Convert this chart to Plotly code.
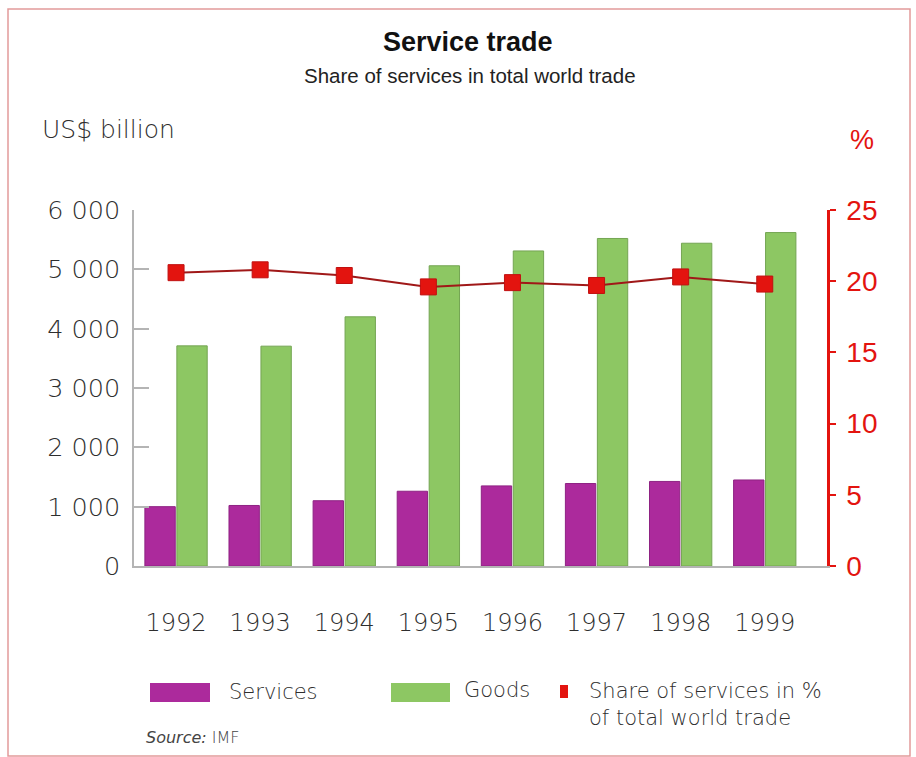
import plotly.graph_objects as go

# ---- data -------------------------------------------------------------
years = ["1992", "1993", "1994", "1995", "1996", "1997", "1998", "1999"]
services = [1000, 1020, 1100, 1260, 1350, 1390, 1425, 1450]      # US$ billion
goods = [3710, 3705, 4200, 5060, 5310, 5520, 5440, 5620]         # US$ billion
share_pct = [20.6, 20.8, 20.4, 19.6, 19.9, 19.7, 20.3, 19.8]     # % of total world trade

left_ticks = [0, 1000, 2000, 3000, 4000, 5000, 6000]
left_tick_text = ["0", "1 000", "2 000", "3 000", "4 000", "5 000", "6 000"]
right_ticks = [0, 5, 10, 15, 20, 25]

# ---- page geometry ------------------------------------------------------
W, H = 916, 757
PL, PR, PT, PB = 134, 827, 210, 566   # plot area in page pixels


def px(x):
    return (x - PL) / (PR - PL)


def py(y):
    return (PB - y) / (PB - PT)


PURPLE = "#AC2A9C"
GREEN = "#8DC763"
RED = "#E3140F"
DARK_RED = "#A01818"
GREY_TXT = "#2E2E2E"
AXIS_GREY = "#B4B4B4"
BODY_FONT = "DejaVu Sans, Verdana, sans-serif"
NARROW_FONT = "Liberation Sans Narrow, Arial Narrow, sans-serif"
RED_FONT = "Liberation Sans, Arial, sans-serif"

fig = go.Figure()

fig.add_trace(go.Bar(
    x=years, y=services, name="Services",
    marker=dict(color=PURPLE, line=dict(color="#8E2283", width=1)),
    showlegend=False,
))
fig.add_trace(go.Bar(
    x=years, y=goods, name="Goods",
    marker=dict(color=GREEN, line=dict(color="#74A553", width=1)),
    showlegend=False,
))
fig.add_trace(go.Scatter(
    x=years, y=share_pct, yaxis="y2", mode="lines+markers",
    name="Share of services in % of total world trade",
    line=dict(color=DARK_RED, width=2),
    marker=dict(symbol="square", size=16, color=RED, line=dict(color="#C01010", width=1)),
    showlegend=False,
))

shapes = []
annotations = []


def label(text, x, y, font, xanchor="left", align="left"):
    annotations.append(dict(text=text, xref="paper", yref="paper",
                            x=px(x), y=py(y), xanchor=xanchor, yanchor="middle",
                            align=align, showarrow=False, font=font))


# outer frame
shapes.append(dict(type="rect", xref="paper", yref="paper",
                   x0=px(8), x1=px(910), y0=py(756), y1=py(9),
                   line=dict(color="#E29A9A", width=1.5), fillcolor="rgba(0,0,0,0)",
                   layer="below"))

# titles
label("<b>Service trade</b>", 468, 42,
      dict(family=NARROW_FONT, size=27, color="#111111"), xanchor="center", align="center")
label("Share of services in total world trade", 470, 75,
      dict(family=NARROW_FONT, size=20.5, color="#222222"), xanchor="center", align="center")
label("US$ billion", 40, 130, dict(family=BODY_FONT, size=25, color=GREY_TXT, weight=300))
label("%", 862, 140, dict(family=RED_FONT, size=27, color=RED), xanchor="center", align="center")

# legend
shapes.append(dict(type="rect", xref="paper", yref="paper",
                   x0=px(150), x1=px(210), y0=py(702), y1=py(683),
                   fillcolor=PURPLE, line=dict(width=0)))
shapes.append(dict(type="rect", xref="paper", yref="paper",
                   x0=px(391), x1=px(450), y0=py(702), y1=py(683),
                   fillcolor=GREEN, line=dict(width=0)))
shapes.append(dict(type="rect", xref="paper", yref="paper",
                   x0=px(560), x1=px(568), y0=py(698), y1=py(685),
                   fillcolor=RED, line=dict(width=0)))
legend_font = dict(family=BODY_FONT, size=21, color=GREY_TXT, weight=300)
label("Services", 227, 692, legend_font)
label("Goods", 462, 690, legend_font)
label("Share of services in %<br>of total world trade", 587, 704, legend_font)
label("<i>Source:</i> IMF", 144, 737, dict(family=BODY_FONT, size=16, color="#444444", weight=300))

fig.update_layout(
    width=W, height=H, autosize=False,
    margin=dict(l=PL, r=W - PR, t=PT, b=H - PB, pad=0),
    paper_bgcolor="white", plot_bgcolor="white",
    barmode="group", bargap=0.24, bargroupgap=0.05,
    shapes=shapes, annotations=annotations,
    xaxis=dict(
        type="category", range=[-0.5, 7.74],
        showline=True, linecolor=AXIS_GREY, linewidth=1.5,
        ticks="", showgrid=False, zeroline=False,
        tickfont=dict(family=BODY_FONT, size=24, color=GREY_TXT, weight=300),
        ticklabelstandoff=34,
    ),
    yaxis=dict(
        range=[0, 6000], tickvals=left_ticks, ticktext=left_tick_text,
        showline=True, linecolor=AXIS_GREY, linewidth=1.5,
        ticks="inside", ticklen=15, tickcolor=AXIS_GREY, tickwidth=1.5,
        showgrid=False, zeroline=False,
        tickfont=dict(family=BODY_FONT, size=25.5, color=GREY_TXT, weight=300),
        ticklabelstandoff=7,
    ),
    yaxis2=dict(
        overlaying="y", side="right", range=[0, 25], tickvals=right_ticks,
        showline=True, linecolor=RED, linewidth=2.5,
        ticks="outside", ticklen=6, tickcolor=RED, tickwidth=2,
        showgrid=False, zeroline=False,
        tickfont=dict(family=RED_FONT, size=28, color=RED),
        ticklabelstandoff=5,
    ),
)

fig.write_html("out.html")
